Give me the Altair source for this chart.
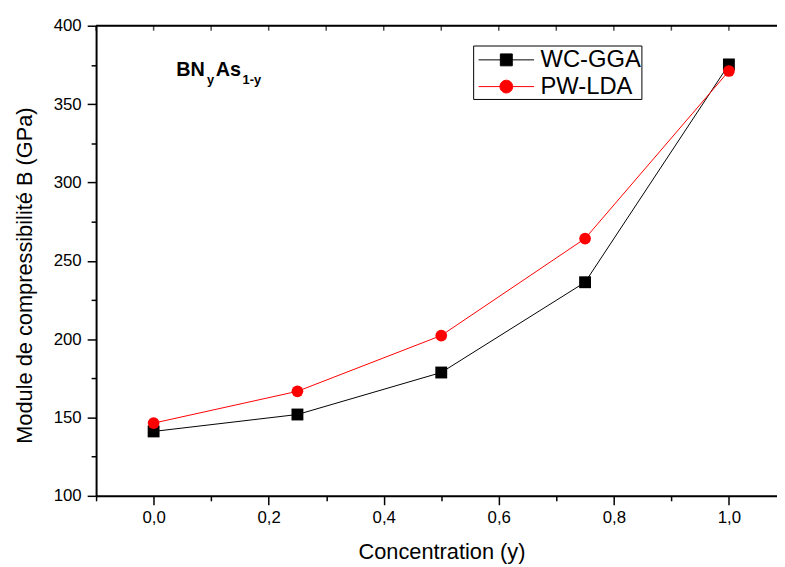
import altair as alt
import pandas as pd

# ---- data ----
conc = [0.0, 0.25, 0.5, 0.75, 1.0]
wc_gga = [141.1, 151.9, 178.7, 236.3, 375.3]
pw_lda = [146.4, 166.7, 202.3, 264.2, 371.1]
series_names = ["WC-GGA", "PW-LDA"]
series_colors = ["#000000", "#ff0000"]
x_ticks = [-0.1, 0.0, 0.1, 0.2, 0.3, 0.4, 0.5, 0.6, 0.7, 0.8, 0.9, 1.0]
y_ticks = [100, 125, 150, 175, 200, 225, 250, 275, 300, 325, 350, 375, 400]
x_domain = [-0.1, 1.0836]
y_domain = [100, 400]

W, H = 688, 475
FONT = "Liberation Sans"

df = pd.DataFrame({
    "conc": conc + conc,
    "B": wc_gga + pw_lda,
    "series": [series_names[0]] * len(conc) + [series_names[1]] * len(conc),
})
ticks_df = pd.DataFrame({"conc": x_ticks})
one = pd.DataFrame({"a": [0]})

x_axis = alt.Axis(
    values=x_ticks,
    labelExpr="abs(round(datum.value*10)) % 2 == 0 ? replace(format(datum.value, '.1f'), '.', ',') : ''",
    tickSize={"condition": {"test": "abs(round(datum.value*10)) % 2 == 0", "value": 9}, "value": 5},
    grid=False, domainColor="black", domainWidth=2, tickColor="black", tickWidth=1.5,
    labelFont=FONT, labelFontSize=17, labelColor="black", labelPadding=5,
    titleFont=FONT, titleFontSize=22, titleFontWeight="normal", titleColor="black",
    titleX=349, titleY=63, titleBaseline="alphabetic", titleAlign="center",
)
y_axis = alt.Axis(
    values=y_ticks,
    labelExpr="datum.value % 50 == 0 ? format(datum.value, 'd') : ''",
    tickSize={"condition": {"test": "datum.value % 50 == 0", "value": 9}, "value": 5},
    grid=False, domainColor="black", domainWidth=2, tickColor="black", tickWidth=1.5,
    labelFont=FONT, labelFontSize=17, labelColor="black", labelPadding=6,
    titleFont=FONT, titleFontSize=22, titleFontWeight="normal", titleColor="black",
    titleX=-65, titleY=252, titleBaseline="alphabetic", titleAlign="center", titleAngle=270,
)

X = alt.X("conc:Q", scale=alt.Scale(domain=x_domain, nice=False, zero=False),
          axis=x_axis, title="Concentration (y)")
Y = alt.Y("B:Q", scale=alt.Scale(domain=y_domain, nice=False, zero=False),
          axis=y_axis, title="Module de compressibilité B (GPa)")

wc = alt.Chart(df).transform_filter(alt.datum.series == series_names[0])
pw = alt.Chart(df).transform_filter(alt.datum.series == series_names[1])

line_wc = wc.mark_line(color=series_colors[0], strokeWidth=1).encode(x=X, y=Y)
pts_wc = wc.mark_square(size=144, color=series_colors[0], opacity=1).encode(x=X, y=Y)
line_pw = pw.mark_line(color=series_colors[1], strokeWidth=1).encode(x=X, y=Y)
pts_pw = pw.mark_circle(size=140, color=series_colors[1], opacity=1).encode(x=X, y=Y)

# legend (line + marker symbols)
sq_path = "M-2,0H2M-0.43,-0.43H0.43V0.43H-0.43Z"
ci_path = "M-2,0H2M0.46,0A0.46,0.46,0,1,1,-0.46,0A0.46,0.46,0,1,1,0.46,0Z"
leg = alt.Legend(title=None, orient="none", legendX=381, legendY=20,
                 strokeColor="black", fillColor="white", padding=0,
                 labelFont=FONT, labelFontSize=24, labelColor="black",
                 symbolSize=784, symbolStrokeWidth=1, symbolOffset=19,
                 labelOffset=20, rowPadding=0, labelLimit=0)
legend_layer = alt.Chart(df).transform_filter("false").mark_point(
    filled=True, opacity=1, strokeWidth=1
).encode(
    x=X, y=Y,
    fill=alt.Fill("series:N", scale=alt.Scale(domain=series_names, range=series_colors), legend=leg),
    stroke=alt.Stroke("series:N", scale=alt.Scale(domain=series_names, range=series_colors), legend=leg),
    shape=alt.Shape("series:N", scale=alt.Scale(domain=series_names, range=[sq_path, ci_path]), legend=leg),
)

# top frame line with inward ticks
top_line = alt.Chart(one).mark_rule(color="black", strokeWidth=2).encode(
    x=alt.value(0), x2=alt.value(W), y=alt.value(0))
top_ticks = alt.Chart(ticks_df).mark_tick(color="black", thickness=1.5, size=5).encode(
    x=X, y=alt.value(2.5))

# annotation BN_yAs_{1-y}
def txt(t, x, y, size):
    return alt.Chart(one).mark_text(
        text=t, font=FONT, fontWeight="bold", fontSize=size, color="black",
        align="left", baseline="alphabetic"
    ).encode(x=alt.value(x), y=alt.value(y))

ann = txt("BN", 81, 51, 20) + txt("y", 112, 59, 13) + txt("As", 121, 51, 20) + txt("1-y", 148, 59, 13)

chart = alt.layer(
    line_wc, pts_wc, line_pw, pts_pw, legend_layer, top_line, top_ticks, ann
).properties(
    width=W, height=H,
    padding={"left": 89, "top": 15, "right": 0, "bottom": 69},
    autosize=alt.AutoSizeParams(type="none"),
).configure_view(stroke=None).configure(background="white")

chart.save("out.html", embed_options={"renderer": "svg", "actions": False})
